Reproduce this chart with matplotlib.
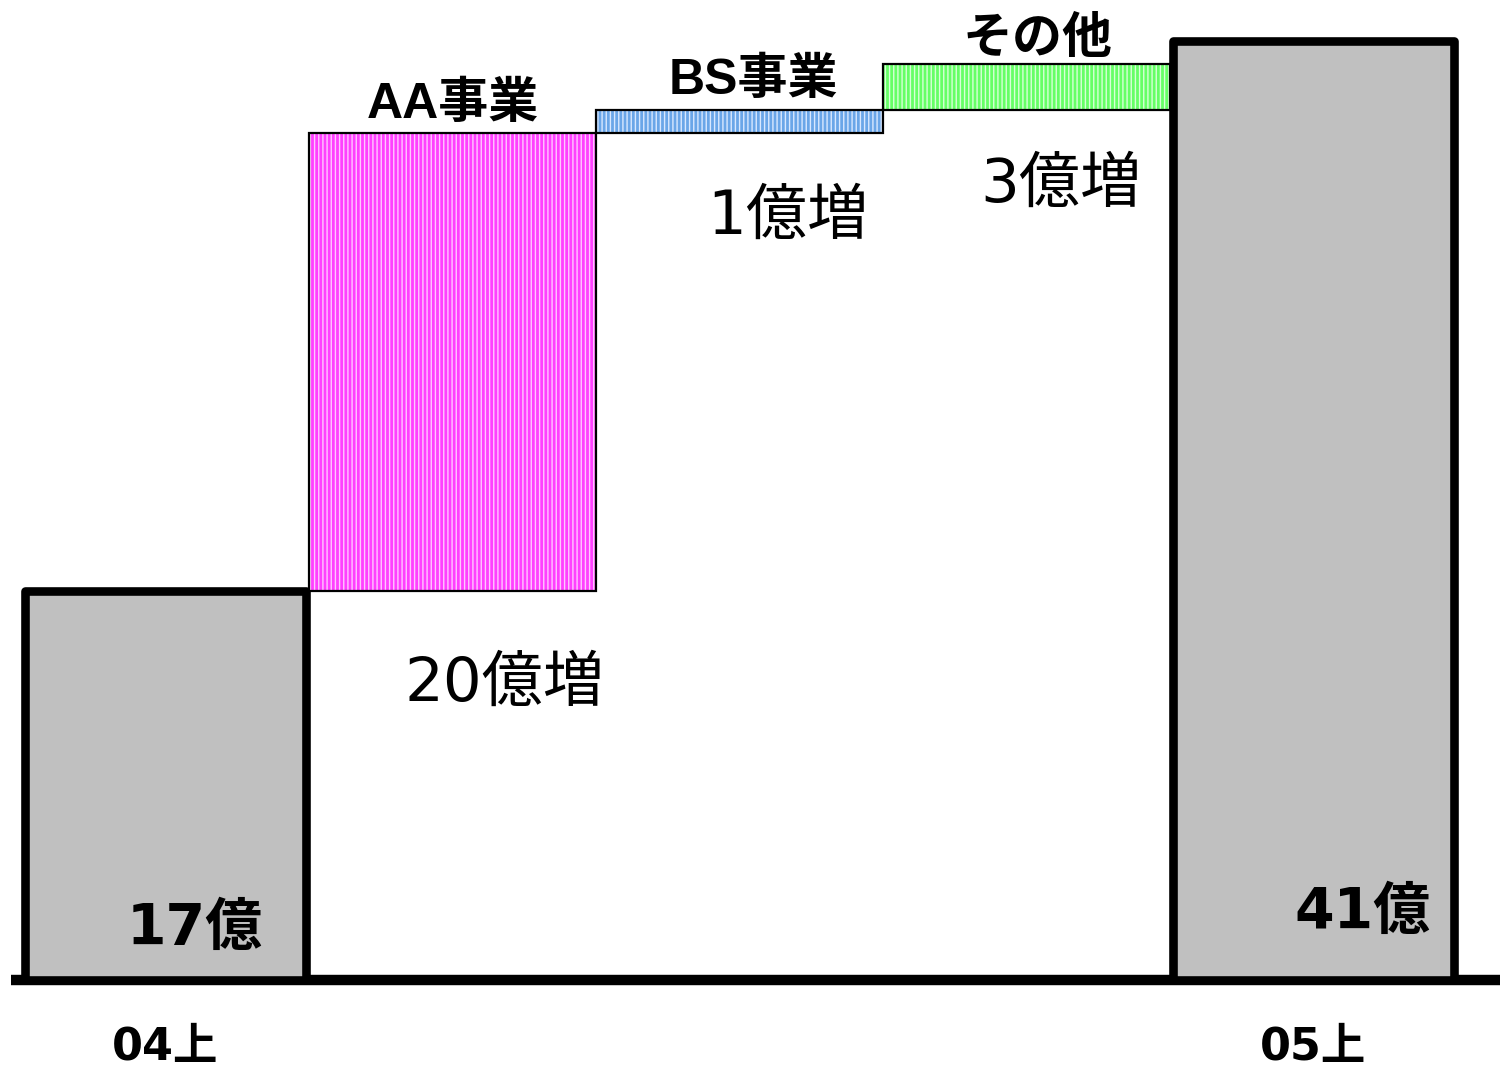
import numpy as np
import matplotlib.pyplot as plt

plt.rcParams['font.family'] = ['Noto Sans CJK JP', 'DejaVu Sans']
plt.rcParams['hatch.linewidth'] = 1.0

# data (units: 億)
start_value = 17
end_value = 41
step_names = ['AA事業', 'BS事業', 'その他']
step_heights = [20.0, 1.0, 2.0]          # as drawn
step_labels = ['20億増', '1億増', '3億増']
step_colors = ['#ff40ff', '#6aa6e8', '#66ff66']
stripe_colors = ['#ffc8ff', '#d8e8ff', '#d8ffd8']
tick_labels = ['04上', '05上']
total_labels = ['17億', '41億']

num_font = ['DejaVu Sans', 'Noto Sans CJK JP']
name_font = ['Liberation Sans', 'Noto Sans CJK JP']

fig = plt.figure(figsize=(15, 10.68), dpi=100)
ax = fig.add_axes([0, 0, 1, 1])

pos = np.arange(len(step_heights) + 2)
bottoms = start_value + np.concatenate([[0], np.cumsum(step_heights)[:-1]])

ax.hlines(0, pos[0] - 0.54, pos[-1] + 1.2, color='black', lw=7.5, zorder=2)

# totals
ax.bar([pos[0], pos[-1]], [start_value, end_value], width=0.98, color='#c0c0c0',
       edgecolor='black', linewidth=6.2, joinstyle='round', zorder=3)

# steps
name_dx = [0.0, 0.05, 0.04]
name_dy = [1.2, 1.25, 1.05]
for i, (b, h) in enumerate(zip(bottoms, step_heights)):
    x = pos[i + 1]
    ax.bar(x, h, bottom=b, width=1.0, color=step_colors[i], edgecolor=stripe_colors[i],
           hatch='||||', linewidth=0, zorder=3)
    ax.bar(x, h, bottom=b, width=1.0, fill=False, edgecolor='black',
           linewidth=1.6, zorder=4)
    ax.text(x + name_dx[i], b + h + name_dy[i], step_names[i], ha='center',
            va='center', fontsize=36, fontweight='bold', family=name_font)

ax.text(pos[1] + 0.18, 12.9, step_labels[0], ha='center', va='center',
        fontsize=44, family=num_font)
ax.text(pos[2] + 0.17, 33.3, step_labels[1], ha='center', va='center',
        fontsize=44, family=num_font)
ax.text(pos[3] + 0.12, 34.7, step_labels[2], ha='center', va='center',
        fontsize=44, family=num_font)

ax.text(pos[0] + 0.1, 2.2, total_labels[0], ha='center', va='center',
        fontsize=41, fontweight='bold', family=num_font)
ax.text(pos[-1] + 0.17, 2.9, total_labels[1], ha='center', va='center',
        fontsize=41, fontweight='bold', family=num_font)

for x, lab in zip([pos[0], pos[-1]], tick_labels):
    ax.text(x, -2.95, lab, ha='center', va='center', fontsize=32,
            fontweight='bold', family=num_font)

ax.set_xlim(-0.577, 4.65)
ax.set_ylim(-3.84, 42.8)
ax.axis('off')

fig.savefig('out.png', dpi=100)
